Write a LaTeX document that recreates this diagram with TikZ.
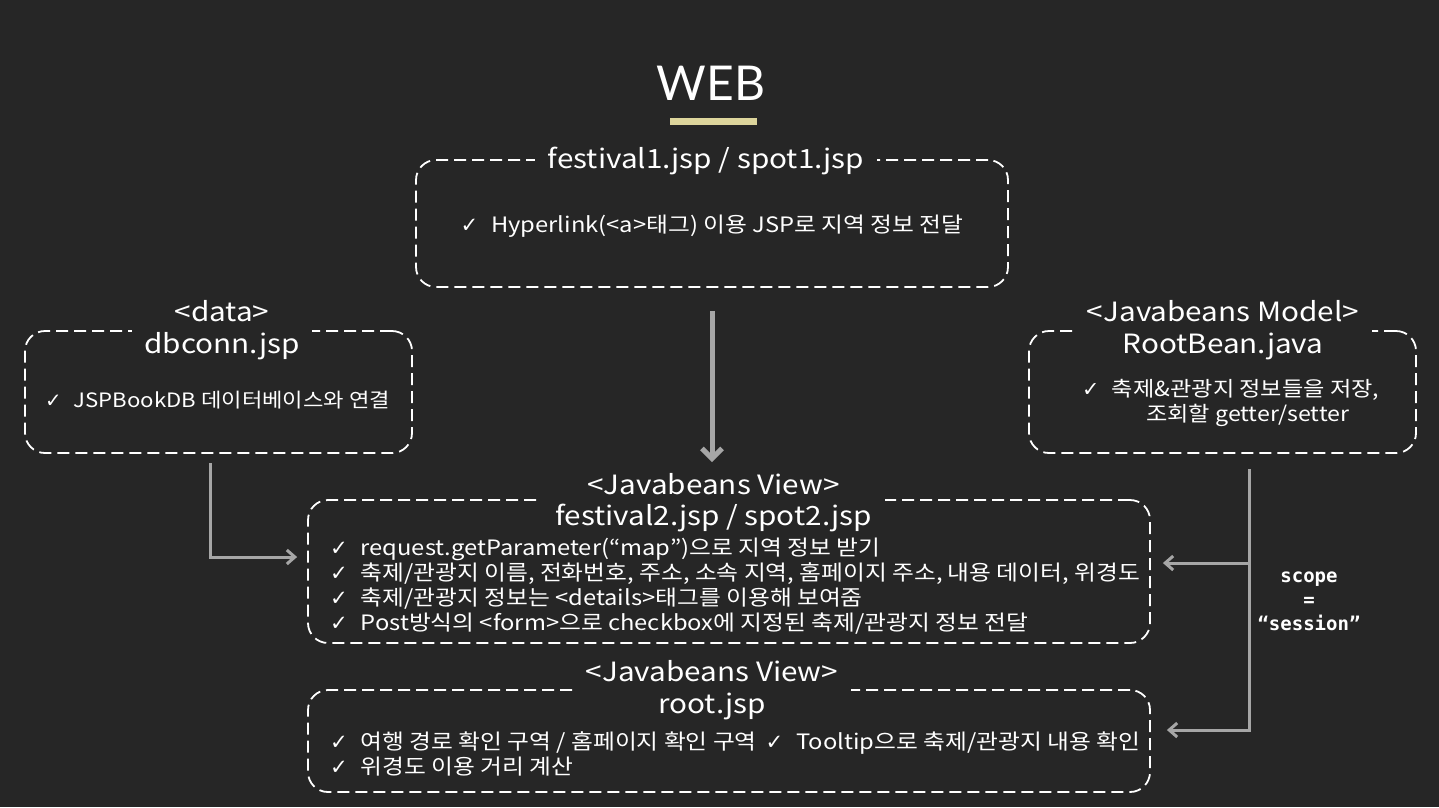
\documentclass[tikz,border=0pt]{standalone}
\usepackage{fontspec}
\setmainfont{Noto Sans CJK KR}[FakeStretch=1.12]
\newfontfamily\symfont{DejaVu Sans}
\newfontfamily\webfont{Lato}
\newfontfamily\codefont{DejaVu Sans Mono}
\usetikzlibrary{arrows.meta}
\definecolor{bgdark}{HTML}{262626}
\definecolor{linkgray}{HTML}{A6A6A6}
\definecolor{barkhaki}{HTML}{DDD59C}
\newcommand{\chk}{{\symfont ✓}\hspace{0.6em}}

\begin{document}
\begin{tikzpicture}[x=1pt, y=-1pt,
	every node/.style={text=white, inner sep=0pt},
	box/.style={draw=white, line width=1.8pt, dash pattern=on 12pt off 6pt, rounded corners=20pt},
	head/.style={fill=bgdark, align=center, inner xsep=13pt, inner ysep=2pt, font=\fontsize{26.5}{32}\selectfont},
	item/.style={anchor=west, align=left, font=\fontsize{21.2}{25}\selectfont},
	link/.style={draw=linkgray, line width=3pt, -{Straight Barb[length=8pt, width=14pt]}}]
	\fill[bgdark] (0,0) rectangle (1439,807);
	\useasboundingbox (0,0) rectangle (1439,807);
	\node[font=\fontsize{48}{48}\webfont] (web) at (711,83) {WEB};
	\fill[barkhaki] (670,118) rectangle (757,125);
	\node[box, minimum width=592pt, minimum height=127pt] (festbox) at (712,223.5) {};
	\node[head] (festhead) at (706,161) {festival1.jsp / spot1.jsp};
	\node[item, anchor=center] (festitem) at (712,226) {\chk Hyperlink(<a>태그) 이용 JSP로 지역 정보 전달};
	\node[box, minimum width=387pt, minimum height=122pt] (dbbox) at (218.5,392) {};
	\node[head] (dbhead) at (222,330.5) {<data>\\dbconn.jsp};
	\node[item, font=\fontsize{19.8}{25}\selectfont] (dbitem) at (45,400) {\chk JSPBookDB 데이터베이스와 연결};
	\node[box, minimum width=387pt, minimum height=122pt] (beanbox) at (1222.5,392) {};
	\node[head] (beanhead) at (1223,330.5) {<Javabeans Model>\\RootBean.java};
	\node[item, font=\fontsize{20.7}{25}\selectfont] (beanitem) at (1082,390) {\chk 축제\&관광지 정보들을 저장,};
	\node[item, font=\fontsize{20.7}{25}\selectfont] (beanitemb) at (1146,415) {조회할 getter/setter};
	\node[box, minimum width=842pt, minimum height=143pt] (viewbox) at (729,571.5) {};
	\node[head, font=\fontsize{26.5}{31}\selectfont] (viewhead) at (713.5,502.5) {<Javabeans View>\\festival2.jsp / spot2.jsp};
	\node[item] (viewitem) at (330,586) {\chk request.getParameter(“map”)으로 지역 정보 받기\\
		\chk 축제/관광지 이름, 전화번호, 주소, 소속 지역, 홈페이지 주소, 내용 데이터, 위경도\\
		\chk 축제/관광지 정보는 <details>태그를 이용해 보여줌\\
		\chk Post방식의 <form>으로 checkbox에 지정된 축제/관광지 정보 전달};
	\node[box, minimum width=842pt, minimum height=102pt] (rootbox) at (729,741) {};
	\node[head] (roothead) at (712,690) {<Javabeans View>\\root.jsp};
	\node[item] (rootitem) at (330,753.5) {\chk 여행 경로 확인 구역 / 홈페이지 확인 구역\hspace{9pt}\chk Tooltip으로 축제/관광지 내용 확인\\
		\chk 위경도 이용 거리 계산};
	\node[align=center, font=\fontsize{19}{24}\codefont\bfseries] (scopenote) at (1309,601) {scope\\=\\“session”};
	\coordinate (viewtip) at (712,462);
	\coordinate (dbout) at (210,463);
	\coordinate (beanout) at (1249,469);
	\draw[link, line width=5pt, -{Straight Barb[length=10pt, width=20pt]}, shorten <=23pt] (festbox.south) -- (viewtip);
	\draw[link, shorten >=10pt] (dbout) |- ([yshift=14.5pt]viewbox.west);
	\draw[link, shorten >=12pt] (beanout) |- ([yshift=8.5pt]viewbox.east);
	\draw[link, shorten >=16pt] (beanout) |- ([yshift=11pt]rootbox.east);
\end{tikzpicture}
\end{document}
